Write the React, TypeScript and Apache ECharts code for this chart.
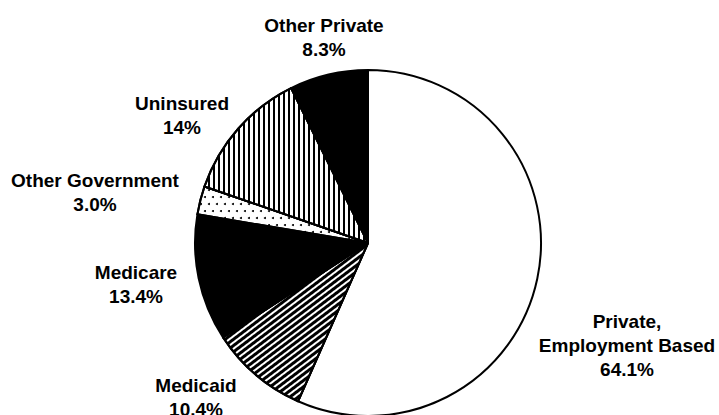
import React, { useEffect, useRef } from "react";
import * as echarts from "echarts";

const categories = [
  "Private,\nEmployment Based",
  "Medicaid",
  "Medicare",
  "Other Government",
  "Uninsured",
  "Other Private",
];
const values = [64.1, 10.4, 13.4, 3.0, 14, 8.3];
const valueLabels = ["64.1%", "10.4%", "13.4%", "3.0%", "14%", "8.3%"];

// label block centres (layout, not data)
const labelPos: [number, number][] = [
  [627, 345],
  [196, 397],
  [136, 284],
  [95, 192],
  [182, 115],
  [324, 37],
];

const styles: any[] = [
  { color: "#fff" },
  {
    color: "#fff",
    decal: {
      symbol: "rect",
      symbolSize: 1,
      symbolKeepAspect: false,
      color: "#000",
      backgroundColor: "#fff",
      dashArrayX: [1, 0],
      dashArrayY: [3, 2],
      rotation: -Math.PI * 37 / 180,
    },
  },
  { color: "#000" },
  {
    color: "#fff",
    decal: {
      symbol: "circle",
      symbolSize: 1,
      color: "#000",
      backgroundColor: "#fff",
      dashArrayX: [[2, 6], [0, 4, 2, 2]],
      dashArrayY: [2, 5],
      rotation: 0,
    },
  },
  {
    color: "#fff",
    decal: {
      symbol: "rect",
      symbolSize: 1,
      symbolKeepAspect: false,
      color: "#000",
      backgroundColor: "#fff",
      dashArrayX: [1, 0],
      dashArrayY: [2, 2.7],
      rotation: Math.PI / 2,
    },
  },
  { color: "#000" },
];

export default function App() {
  const ref = useRef<HTMLDivElement>(null);
  useEffect(() => {
    if (!ref.current) return;
    const chart = echarts.init(ref.current, undefined, { renderer: "svg" });
    chart.setOption({
      animation: false,
      backgroundColor: "#fff",
      series: [
        {
          type: "pie",
          center: [368, 243],
          radius: 173,
          startAngle: 90,
          clockwise: true,
          avoidLabelOverlap: false,
          itemStyle: { borderColor: "#000", borderWidth: 2 },
          emphasis: { disabled: true },
          label: {
            show: true,
            position: "outside",
            formatter: (p: any) => `${categories[p.dataIndex]}\n${valueLabels[p.dataIndex]}`,
            fontFamily: "Liberation Sans, Arial, sans-serif",
            fontWeight: "bold",
            fontSize: 19,
            lineHeight: 24,
            color: "#000",
            align: "center",
          },
          labelLine: { show: false },
          labelLayout: (p: any) => ({
            x: labelPos[p.dataIndex][0],
            y: labelPos[p.dataIndex][1],
            align: "center",
            verticalAlign: "middle",
          }),
          data: categories.map((name, i) => ({
            name,
            value: values[i],
            itemStyle: styles[i],
          })),
        },
      ],
    });
    return () => chart.dispose();
  }, []);
  return (
    <div
      ref={ref}
      style={{ position: "fixed", left: 0, top: 0, width: 719, height: 415 }}
    />
  );
}
